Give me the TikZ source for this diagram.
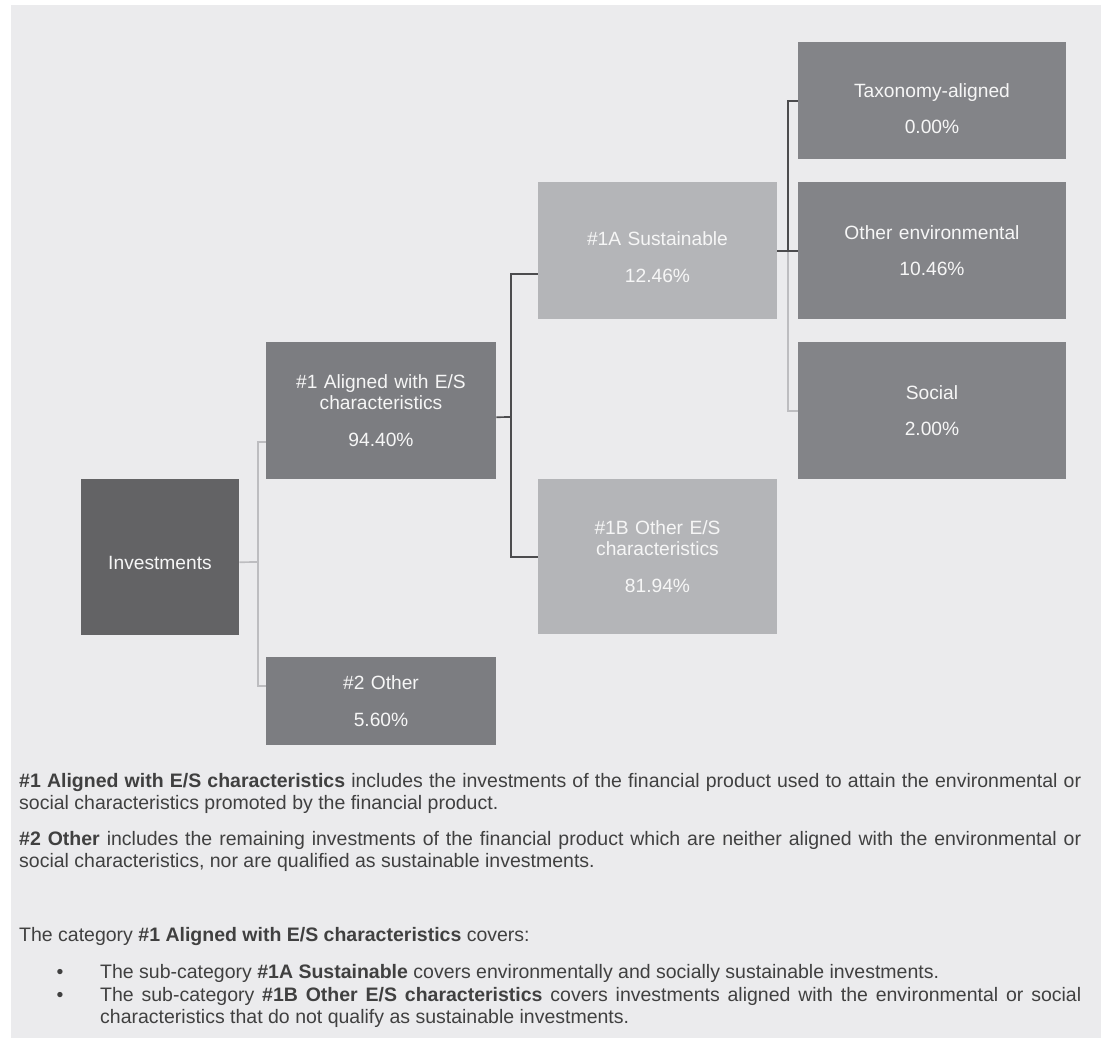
\documentclass[tikz,border=0pt]{standalone}
\usepackage{fontspec}
\setmainfont{Liberation Sans}
\definecolor{bgc}{HTML}{EBEBED}
\definecolor{invc}{HTML}{636365}
\definecolor{midc}{HTML}{7C7D81}
\definecolor{rightc}{HTML}{838488}
\definecolor{lightc}{HTML}{B4B5B8}
\definecolor{darkline}{HTML}{4C4C4E}
\definecolor{lightline}{HTML}{BDBDC0}
\definecolor{bodyc}{HTML}{404040}
\definecolor{boxtext}{HTML}{F6F6F6}
\newcommand\boxfont{\fontsize{19.2}{21.5}\selectfont}
\newcommand\bodyfont{\fontsize{19.5}{22.5}\selectfont}
\begin{document}
\begin{tikzpicture}[x=1pt,y=-1pt,
  boxnode/.style={draw=none,inner sep=0pt,anchor=north west},
  lbl/.style={anchor=base,inner sep=0pt,text width=226pt,align=center,font=\boxfont,text=boxtext},
  body/.style={anchor=base west,inner sep=0pt,align=justify,font=\bodyfont,text=bodyc},
  bulletdot/.style={anchor=base,inner sep=0pt,font=\bodyfont,text=bodyc},
  dk/.style={draw=darkline,line width=1.7pt,line join=miter},
  lt/.style={draw=lightline,line width=1.7pt,line join=miter}]
\useasboundingbox (0,0) rectangle (1101,1039);
\fill[bgc] (11,5) rectangle (1101,1038);

% boxes
\node[boxnode,fill=invc,minimum width=158pt,minimum height=156pt] (inv) at (81,479) {};
\node[boxnode,fill=midc,minimum width=230pt,minimum height=137pt] (a1) at (266,342) {};
\node[boxnode,fill=midc,minimum width=230pt,minimum height=88pt] (o2) at (266,657) {};
\node[boxnode,fill=lightc,minimum width=239pt,minimum height=137pt] (sa) at (538,182) {};
\node[boxnode,fill=lightc,minimum width=239pt,minimum height=155pt] (sb) at (538,479) {};
\node[boxnode,fill=rightc,minimum width=268pt,minimum height=117pt] (tax) at (798,42) {};
\node[boxnode,fill=rightc,minimum width=268pt,minimum height=137pt] (oe) at (798,182) {};
\node[boxnode,fill=rightc,minimum width=268pt,minimum height=137pt] (soc) at (798,342) {};

% box texts
\node[lbl] (inv-t) at (160,569) {Investments};
\node[lbl] (a1-t) at (381,388) {\#1 Aligned with E/S\\characteristics\\[15.5pt]94.40\%};
\node[lbl] (o2-t) at (381,689) {\#2 Other\\[15.5pt]5.60\%};
\node[lbl] (sa-t) at (657.5,245) {\#1A Sustainable\\[15.5pt]12.46\%};
\node[lbl] (sb-t) at (657.5,534) {\#1B Other E/S\\characteristics\\[15.5pt]81.94\%};
\node[lbl] (tax-t) at (932,97) {Taxonomy-aligned\\[14.5pt]0.00\%};
\node[lbl] (oe-t) at (932,239) {Other environmental\\[14.5pt]10.46\%};
\node[lbl] (soc-t) at (932,399) {Social\\[14.5pt]2.00\%};

% connectors
\coordinate (j1) at (258,562);
\draw[lt] ([yshift=-5pt]inv.east) -- (j1);
\draw[lt] (j1) |- ([yshift=-31.5pt]a1.west);
\draw[lt] (j1) |- ([yshift=15pt]o2.west);

\coordinate (j2) at (511,417);
\draw[dk] ([yshift=-6.5pt]a1.east) -- (j2);
\draw[dk] (j2) |- ([yshift=-23.5pt]sa.west);
\draw[dk] (j2) |- (sb.west);

\coordinate (j3) at (788,250.5);
\draw[lt] (j3) |- (soc.west);
\draw[dk] (sa.east) -- (oe.west);
\draw[dk] (j3) |- (tax.west);

% body text
\node[body,text width=1062pt] (p1) at (19,787) {\textbf{\#1 Aligned with E/S characteristics} includes the investments of the financial product used to attain the environmental or\linebreak social characteristics promoted by the financial product.};
\node[body,text width=1062pt] (p2) at (19,845) {\textbf{\#2 Other} includes the remaining investments of the financial product which are neither aligned with the environmental or\linebreak social characteristics, nor are qualified as sustainable investments.};
\node[body,text width=1062pt] (p3) at (19,941) {The category \textbf{\#1 Aligned with E/S characteristics} covers:};
\node[bulletdot] (d1) at (60,978) {•};
\node[body,text width=981pt] (b1) at (100,978) {The sub-category \textbf{\#1A Sustainable} covers environmentally and socially sustainable investments.};
\node[bulletdot] (d2) at (60,1001) {•};
\node[body,text width=981pt] (b2) at (100,1001) {The sub-category \textbf{\#1B Other E/S characteristics} covers investments aligned with the environmental or social\linebreak characteristics that do not qualify as sustainable investments.};
\end{tikzpicture}
\end{document}
